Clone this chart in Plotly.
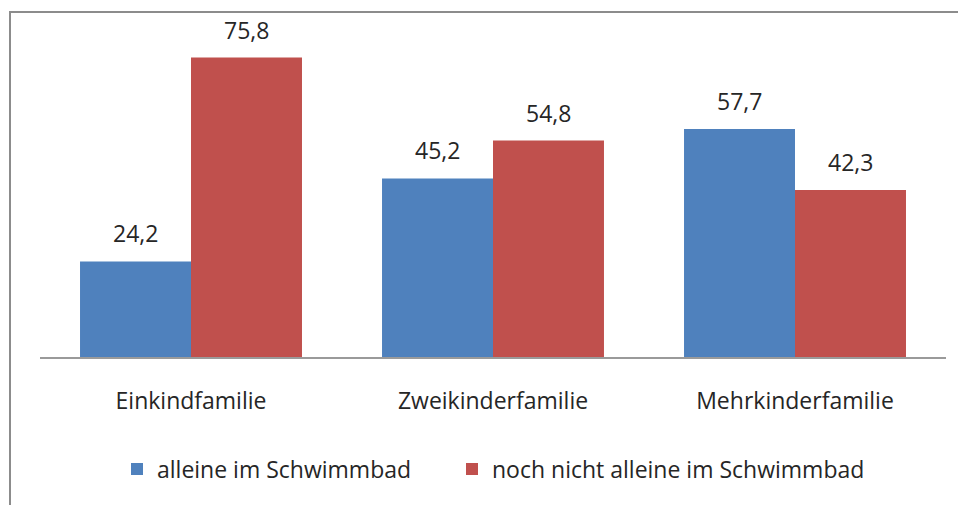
import plotly.graph_objects as go

categories = ["Einkindfamilie", "Zweikinderfamilie", "Mehrkinderfamilie"]
series_names = ["alleine im Schwimmbad", "noch nicht alleine im Schwimmbad"]
alleine = [24.2, 45.2, 57.7]
noch_nicht = [75.8, 54.8, 42.3]
colors = ["#4F81BD", "#C0504D"]

FONT = "Open Sans"
FS = 23
TXT = "#262626"

# page body has an 8px margin; figure is sized to fit the window
W, H = 958, 497
ml, mr, mt, mb = 32, 20, 33, 148
pw = W - ml - mr
ph = H - mt - mb
bargap = 0.265
cw = pw / len(categories)
bw = (1 - bargap) * cw / 2

legend_names = ["legend", "legend2"]
fig = go.Figure()
for i, (name, vals, col) in enumerate(zip(series_names, [alleine, noch_nicht], colors)):
    fig.add_trace(go.Bar(
        name=name, x=categories, y=vals, marker=dict(color=col, line=dict(width=0)),
        legend=legend_names[i],
    ))
    for c, v in zip(categories, vals):
        fig.add_annotation(
            x=c, y=v, xref="x", yref="y", text=f"{v:.1f}".replace(".", ","),
            showarrow=False, xshift=(i - 0.5) * bw, yanchor="bottom", yshift=10,
            font=dict(family=FONT, size=FS, color=TXT),
        )

leg_common = dict(orientation="h", xanchor="left", y=(349 - 461) / ph, yanchor="middle",
                  font=dict(family=FONT, size=FS, color=TXT), itemwidth=30,
                  bgcolor="rgba(0,0,0,0)")
fig.update_layout(
    width=W, height=H,
    margin=dict(l=ml, r=mr, t=mt, b=mb),
    paper_bgcolor="white", plot_bgcolor="white",
    barmode="group", bargap=bargap, bargroupgap=0,
    font=dict(family=FONT, size=FS, color=TXT),
    xaxis=dict(showline=True, linecolor="#9a9a9a", linewidth=1.5, ticks="",
               showgrid=False, tickfont=dict(family=FONT, size=FS, color=TXT),
               ticklabelstandoff=23),
    yaxis=dict(visible=False, range=[0, 80], showgrid=False),
    legend=dict(x=(109 - ml) / pw, **leg_common),
    legend2=dict(x=(444 - ml) / pw, **leg_common),
    showlegend=True,
)
fig.add_shape(type="rect", xref="paper", yref="paper",
              x0=(2 - ml) / pw, x1=(W + 20 - ml) / pw,
              y0=-(mb + 20) / ph, y1=(H - mb - 4) / ph,
              line=dict(color="#8c8c8c", width=2), fillcolor="rgba(0,0,0,0)", layer="below")
fig.write_html("out.html")
